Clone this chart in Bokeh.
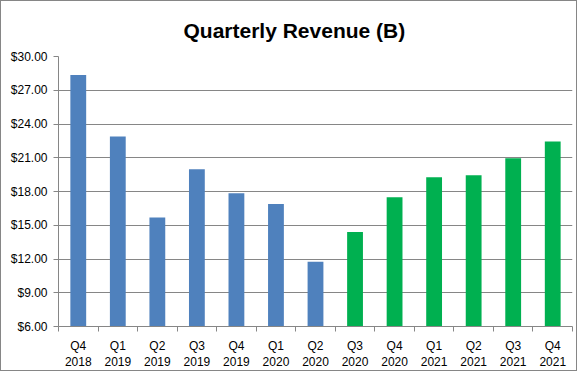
from bokeh.plotting import figure
from bokeh.models import Range1d, FixedTicker, NumeralTickFormatter
from bokeh.embed import file_html
from bokeh.resources import INLINE

quarters = ["Q4\n2018", "Q1\n2019", "Q2\n2019", "Q3\n2019", "Q4\n2019", "Q1\n2020",
            "Q2\n2020", "Q3\n2020", "Q4\n2020", "Q1\n2021", "Q2\n2021", "Q3\n2021", "Q4\n2021"]
revenue = [28.35, 22.88, 15.70, 19.97, 17.85, 16.90, 11.75, 14.40, 17.50, 19.26, 19.44, 20.96, 22.44]
y_ticks = [6, 9, 12, 15, 18, 21, 24, 27, 30]
growth_start = 7  # index of first quarter of the growth phase (green bars)

BLUE = "#4F81BD"
GREEN = "#00B050"
GRAY = "#868686"
FONT = "Liberation Sans"

n = len(quarters)
xs = list(range(n))
colors = [BLUE if i < growth_start else GREEN for i in xs]

p = figure(width=577, height=371, output_backend="svg", toolbar_location=None,
           x_range=Range1d(-0.5, n - 0.5), y_range=Range1d(y_ticks[0], y_ticks[-1]),
           title="Quarterly Revenue (B)",
           min_border_left=57, min_border_right=6, min_border_top=55, min_border_bottom=40)

p.vbar(x=xs, top=revenue, bottom=y_ticks[0], width=0.4, color=colors, line_color=None)

p.title.align = "left"
p.title.offset = 125
p.title.text_font = FONT
p.title.text_font_size = "21px"
p.title.text_font_style = "bold"
p.title.text_color = "black"
p.title.standoff = 30

p.outline_line_color = None
p.xgrid.grid_line_color = None
p.ygrid.grid_line_color = GRAY
p.ygrid.grid_line_width = 1

ya = p.yaxis[0]
ya.ticker = FixedTicker(ticks=y_ticks, minor_ticks=[])
ya.formatter = NumeralTickFormatter(format="$0.00")
ya.axis_line_color = GRAY
ya.major_tick_line_color = GRAY
ya.major_tick_in = 0
ya.major_tick_out = 5
ya.minor_tick_line_color = None
ya.major_label_text_font = FONT
ya.major_label_text_font_size = "12px"
ya.major_label_text_color = "black"
ya.major_label_standoff = 6

xa = p.xaxis[0]
xa.ticker = FixedTicker(ticks=xs, minor_ticks=[i - 0.5 for i in range(n + 1)])
xa.major_label_overrides = {i: q for i, q in zip(xs, quarters)}
xa.axis_line_color = GRAY
xa.major_tick_line_color = None
xa.minor_tick_line_color = GRAY
xa.minor_tick_in = 0
xa.minor_tick_out = 5
xa.major_label_text_font = FONT
xa.major_label_text_font_size = "12px"
xa.major_label_text_color = "black"
xa.major_label_standoff = 6

p.styles = {"border": "1px solid #868686"}

open("out.html", "w").write(file_html(p, INLINE))
